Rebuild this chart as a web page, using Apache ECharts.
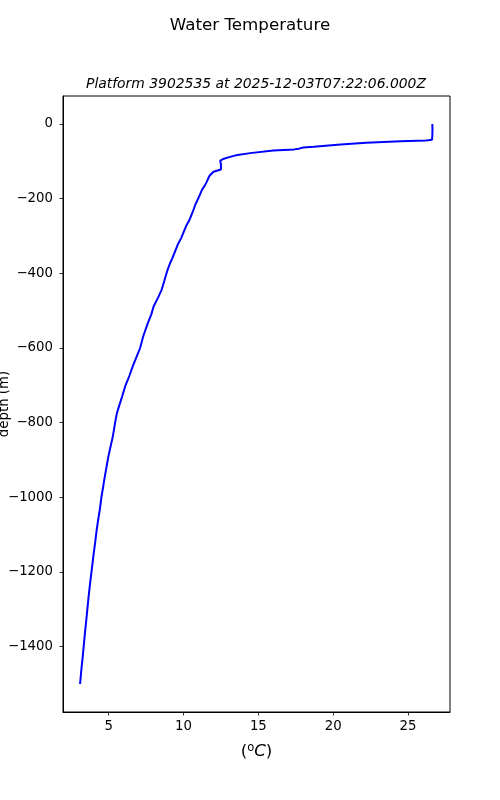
<!DOCTYPE html>
<html>
<head>
<meta charset="utf-8">
<script src="https://cdn.jsdelivr.net/npm/echarts@6/dist/echarts.min.js"></script>
<style>
html,body{margin:0;padding:0;background:#fff;}
#chart{width:500px;height:800px;}
</style>
</head>
<body>
<div id="chart"></div>
<script>
// Temperature (°C) profile vs depth (m)
const temperature = [
  26.62, 26.63, 26.62, 26.60, 26.20, 24.50, 22.20, 20.50, 18.70, 18.00,
  17.70, 17.40, 16.00, 14.45, 13.50, 13.10, 12.70, 12.45, 12.33, 12.50,
  12.60, 12.50, 12.00, 11.75, 11.67, 11.55, 11.42, 11.25, 11.09, 10.92,
  10.80, 10.62, 10.42, 10.20, 10.00, 9.85, 9.65, 9.45, 9.25, 9.10,
  8.90, 8.72, 8.53, 8.30, 8.00, 7.85, 7.65, 7.53, 7.30, 7.10,
  6.87, 6.60, 6.38, 6.10, 5.90, 5.70, 5.55, 5.43, 5.35, 5.25,
  5.12, 4.98, 4.85, 4.72, 4.62, 4.52, 4.42, 4.30, 4.20, 4.10,
  3.97, 3.87, 3.76, 3.65, 3.53, 3.40, 3.27, 3.18, 3.09
];
const depth = [
  0, -15, -30, -42, -44, -46, -50, -55, -61, -63,
  -66, -68, -71, -78, -84, -88, -93, -98, -103, -108,
  -113, -122, -128, -138, -144, -155, -165, -175, -190, -205,
  -215, -235, -255, -271, -290, -305, -320, -340, -360, -373,
  -395, -420, -445, -465, -489, -510, -530, -543, -570, -600,
  -623, -650, -675, -703, -730, -755, -775, -800, -820, -842,
  -865, -891, -920, -950, -975, -998, -1030, -1060, -1087, -1120,
  -1160, -1194, -1230, -1270, -1319, -1370, -1426, -1460, -1500
];
const xTicks = [5, 10, 15, 20, 25];
const yTicks = [0, -200, -400, -600, -800, -1000, -1200, -1400];

const font = '"DejaVu Sans", sans-serif';
const chart = echarts.init(document.getElementById('chart'), null, {renderer: 'canvas'});
const points = temperature.map((t, i) => [t, depth[i]]);

chart.setOption({
  backgroundColor: '#ffffff',
  animation: false,
  title: [
    {
      text: 'Water Temperature',
      left: 'center',
      top: 12,
      textStyle: {fontFamily: font, fontSize: 16.7, fontWeight: 'normal', color: '#000'}
    },
    {
      text: 'Platform 3902535 at 2025-12-03T07:22:06.000Z',
      left: 81,
      top: 72,
      textStyle: {fontFamily: font, fontSize: 13.9, fontStyle: 'italic', fontWeight: 'normal', color: '#000'}
    }
  ],
  grid: {
    left: 63, right: 50, top: 96, bottom: 88,
    outerBoundsMode: 'none',
    containLabel: false,
    show: true, borderColor: '#000', borderWidth: 1, backgroundColor: 'transparent'
  },
  xAxis: {
    type: 'value',
    min: 1.95, max: 27.8,
    position: 'bottom',
    name: '{p|(}{s|o}{c|C}{p|)}',
    nameLocation: 'middle',
    nameGap: 30,
    nameMoveOverlap: false,
    nameTextStyle: {
      rich: {
        p: {fontFamily: font, fontSize: 16.7, color: '#000'},
        s: {fontFamily: font, fontSize: 11.5, color: '#000', verticalAlign: 'top', padding: [0,0,8,0]},
        c: {fontFamily: font, fontSize: 16.7, fontStyle: 'italic', color: '#000'}
      }
    },
    axisLine: {show: true, onZero: false, lineStyle: {color: '#000', width: 1}},
    axisTick: {show: true, inside: false, length: 3.5, customValues: xTicks, lineStyle: {color: '#000', width: 0.8}},
    axisLabel: {customValues: xTicks, margin: 8, fontFamily: font, fontSize: 13.3, color: '#000'},
    splitLine: {show: false}
  },
  yAxis: {
    type: 'value',
    min: -1575, max: 75,
    position: 'left',
    name: 'depth (m)',
    nameLocation: 'middle',
    nameGap: 52,
    nameRotate: 90,
    nameMoveOverlap: false,
    nameTextStyle: {fontFamily: font, fontSize: 13.3, color: '#000'},
    axisLine: {show: true, onZero: false, lineStyle: {color: '#000', width: 1}},
    axisTick: {show: true, inside: false, length: 3.5, customValues: yTicks, lineStyle: {color: '#000', width: 0.8}},
    axisLabel: {
      customValues: yTicks, margin: 10, fontFamily: font, fontSize: 13.3, color: '#000',
      formatter: v => (v < 0 ? '\u2212' + Math.abs(v) : String(v))
    },
    splitLine: {show: false}
  },
  series: [{
    type: 'line',
    data: points,
    showSymbol: false,
    smooth: false,
    lineStyle: {color: '#0000ff', width: 2},
    itemStyle: {color: '#0000ff'}
  }]
});
</script>
</body>
</html>
